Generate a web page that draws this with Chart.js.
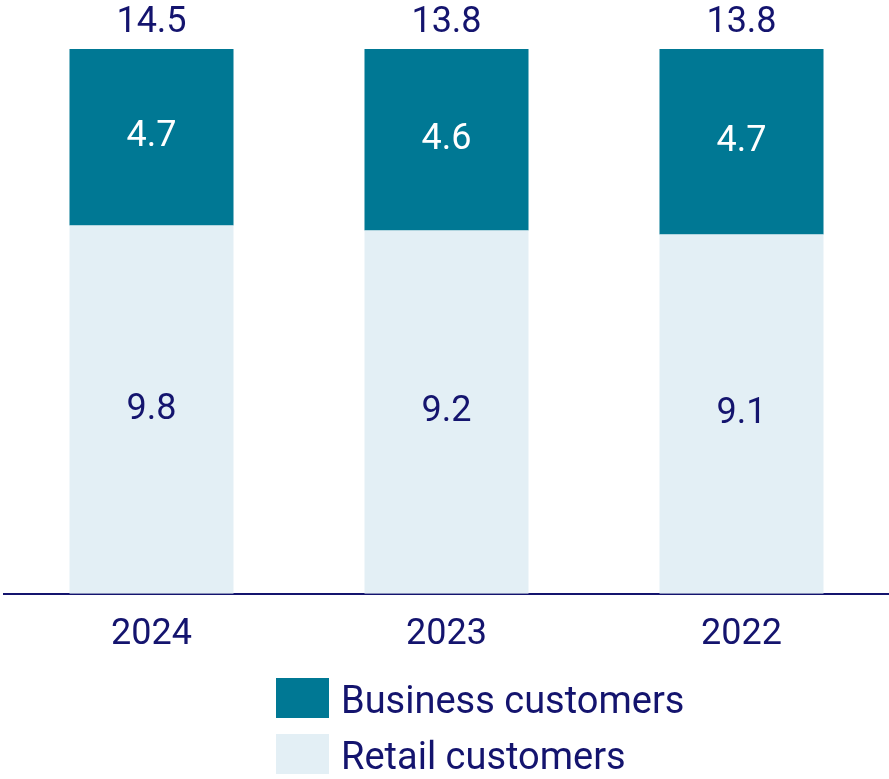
<!DOCTYPE html>
<html>
<head>
<meta charset="utf-8">
<script src="https://cdn.jsdelivr.net/npm/chart.js@4"></script>
<style>
  body { margin: 0; background: #fff; font-family: Roboto, sans-serif; }
  #wrap { position: relative; width: 889px; height: 779px; }
  #legend { position: absolute; left: 276px; top: 678px; }
  .item { display: flex; align-items: center; height: 40px; margin-bottom: 16px; }
  .box { width: 53px; height: 40px; margin-right: 12px; }
  .item span { font-size: 38px; color: #14146e; position: relative; top: 2px; }
</style>
</head>
<body>
<div id="wrap">
  <canvas id="myChart" width="889" height="779"></canvas>
  <div id="legend"></div>
</div>
<script>
// values in millions
const years = ["2024", "2023", "2022"];
const retail = [9.8, 9.2, 9.1];
const business = [4.7, 4.6, 4.7];
const totals = [14.5, 13.8, 13.8];

const navy = "#14146e";
const teal = "#007894";
const light = "#e3eff5";

// bars are drawn as share of the total (every bar reaches the top)
const retailPct = retail.map((v, i) => v / totals[i] * 100);
const businessPct = business.map((v, i) => v / totals[i] * 100);

const labelPlugin = {
  id: "labels",
  afterDatasetsDraw(chart) {
    const ctx = chart.ctx;
    ctx.save();
    ctx.font = "36px Roboto";
    ctx.textAlign = "center";
    ctx.textBaseline = "middle";
    const raw = [retail, business];
    const colors = [navy, "#ffffff"];
    chart.data.datasets.forEach((ds, d) => {
      chart.getDatasetMeta(d).data.forEach((bar, i) => {
        ctx.fillStyle = colors[d];
        ctx.fillText(raw[d][i].toFixed(1), bar.x, (bar.y + bar.base) / 2);
      });
    });
    const top = chart.getDatasetMeta(1).data;
    top.forEach((bar, i) => {
      ctx.fillStyle = navy;
      ctx.fillText(totals[i].toFixed(1), bar.x, bar.y - 26);
    });
    ctx.restore();
  }
};

const chart = new Chart(document.getElementById("myChart"), {
  type: "bar",
  data: {
    labels: years,
    datasets: [
      { label: "Retail customers", data: retailPct, backgroundColor: light },
      { label: "Business customers", data: businessPct, backgroundColor: teal }
    ]
  },
  options: {
    responsive: false,
    animation: false,
    layout: { padding: { top: 49, left: 4, right: 0, bottom: 102 } },
    plugins: { legend: { display: false }, tooltip: { enabled: false } },
    datasets: { bar: { barPercentage: 1, categoryPercentage: 0.556 } },
    scales: {
      x: {
        stacked: true,
        grid: { display: false, drawTicks: false },
        border: { color: navy, width: 2 },
        ticks: { color: navy, font: { family: "Roboto", size: 36 }, padding: 20 }
      },
      y: { stacked: true, display: false, min: 0, max: 100 }
    }
  },
  plugins: [labelPlugin]
});

// legend, business first like the reference
const legend = document.getElementById("legend");
[1, 0].forEach(d => {
  const ds = chart.data.datasets[d];
  const row = document.createElement("div");
  row.className = "item";
  row.innerHTML = '<div class="box" style="background:' + ds.backgroundColor + '"></div><span>' + ds.label + '</span>';
  legend.appendChild(row);
});
</script>
</body>
</html>
